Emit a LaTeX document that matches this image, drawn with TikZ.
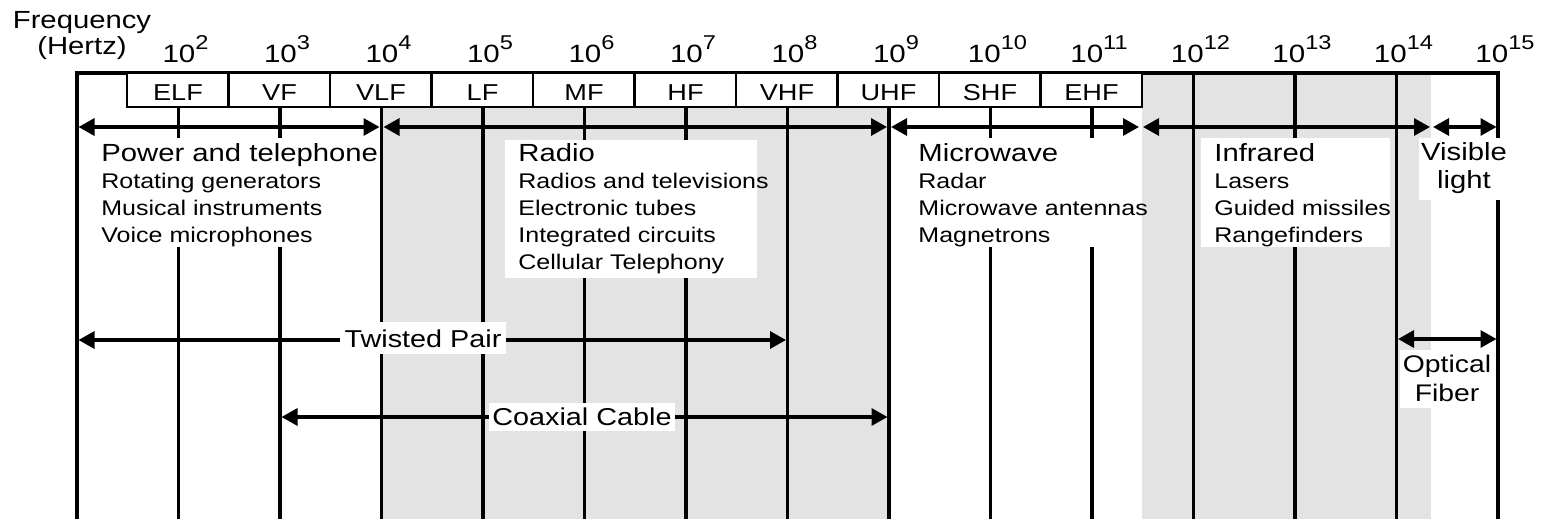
\documentclass[tikz,border=0pt]{standalone}
\usepackage{fontspec}
\setmainfont[FakeStretch=1.18]{Liberation Sans}
\usetikzlibrary{arrows.meta}
\definecolor{bggray}{HTML}{E3E3E3}
\begin{document}
\begin{tikzpicture}[x=0.5pt,y=-0.5pt,
  vline/.style={line width=1.6pt},
  bandline/.style={line width=1.15pt},
  dbl/.style={line width=1.6pt,{Triangle[length=8pt,width=8.5pt]}-{Triangle[length=8pt,width=8.5pt]}},
  head/.style={font=\fontsize{12.4}{14}\selectfont, inner sep=0pt},
  item/.style={font=\fontsize{10.6}{12}\selectfont, inner sep=0pt, anchor=base west},
  band/.style={font=\fontsize{11.5}{12}\selectfont, inner sep=0pt, anchor=base},
  expo/.style={font=\fontsize{12.5}{13}\selectfont, inner sep=0pt, anchor=base},
  lbl/.style={font=\fontsize{12.2}{14}\selectfont, fill=white, anchor=base},
  whitebg/.style={fill=white, draw=none}]

\useasboundingbox (0,0) rectangle (1545,519);

% gray bands
\fill[bggray] (381.5,107) rectangle (889,519);
\fill[bggray] (1142,73) rectangle (1431,519);

% decade lines
\foreach \n in {2,...,11} \draw[vline] ({77+(\n-1)*101.5},107) -- ({77+(\n-1)*101.5},519);
\foreach \n in {12,13,14} \draw[vline] ({77+(\n-1)*101.5},73) -- ({77+(\n-1)*101.5},519);

% frame
\draw[vline] (77,519) -- (77,73) -- (1498,73) -- (1498,519);

% band box
\draw[bandline, fill=white] (127,73) rectangle (1142,107);
\foreach \k in {1,...,9} \draw[bandline] ({127+\k*101.5},73) -- ({127+\k*101.5},107);
\foreach \nm [count=\k from 0] in {ELF,VF,VLF,LF,MF,HF,VHF,UHF,SHF,EHF}
  \node[band] (b\k) at ({178+\k*101.5},100) {\nm};

% exponent labels
\foreach \e in {2,...,15}
  \node[expo] (e\e) at ({77+(\e-1)*101.5+7},63) {10\raisebox{6.5pt}{\fontsize{10}{10}\selectfont \e}};

% axis title
\node[head, anchor=base] (fq) at (82,29) {Frequency};
\node[head, anchor=base] (hz) at (82,55) {(Hertz)};

% white backgrounds of text blocks
\fill[whitebg] (95,138) rectangle (376,247);
\fill[whitebg] (505,140) rectangle (757,278);
\fill[whitebg] (905,138) rectangle (1140,247);
\fill[whitebg] (1201,138) rectangle (1390,247);
\fill[whitebg] (1419,138) rectangle (1512,200);

% text blocks
\node[head, anchor=base west] (pw) at (101,161) {Power and telephone};
\node[item] (pw1t) at (101,188) {Rotating generators};
\node[item] (pw2t) at (101,215) {Musical instruments};
\node[item] (pw3t) at (101,242) {Voice microphones};

\node[head, anchor=base west] (ra) at (518,161) {Radio};
\node[item] (ra1t) at (518,188) {Radios and televisions};
\node[item] (ra2t) at (518,215) {Electronic tubes};
\node[item] (ra3t) at (518,242) {Integrated circuits};
\node[item] (ra4t) at (518,269) {Cellular Telephony};

\node[head, anchor=base west] (mw) at (918,161) {Microwave};
\node[item] (mw1t) at (918,188) {Radar};
\node[item] (mw2t) at (918,215) {Microwave antennas};
\node[item] (mw3t) at (918,242) {Magnetrons};

\node[head, anchor=base west] (ir) at (1214,161) {Infrared};
\node[item] (ir1t) at (1214,188) {Lasers};
\node[item] (ir2t) at (1214,215) {Guided missiles};
\node[item] (ir3t) at (1214,242) {Rangefinders};

\node[head, anchor=base] (vis1) at (1464,160) {Visible};
\node[head, anchor=base] (vis2) at (1464,188) {light};

% arrow end points
\coordinate (pwa) at (78.5,127);  \coordinate (pwb) at (379.5,127);
\coordinate (raa) at (383.5,127); \coordinate (rab) at (887,127);
\coordinate (mwa) at (891,127);   \coordinate (mwb) at (1139,127);
\coordinate (ira) at (1143,127);  \coordinate (irb) at (1430,127);
\coordinate (vla) at (1433,127);  \coordinate (vlb) at (1496.5,127);
\coordinate (tpa) at (78.5,340);  \coordinate (tpb) at (786,340);
\coordinate (cxa) at (281.5,417); \coordinate (cxb) at (887.5,417);
\coordinate (ofa) at (1398,339);  \coordinate (ofb) at (1496.5,339);

\draw[dbl] (pwa) -- (pwb);
\draw[dbl] (raa) -- (rab);
\draw[dbl] (mwa) -- (mwb);
\draw[dbl] (ira) -- (irb);
\draw[dbl] (vla) -- (vlb);
\draw[dbl] (tpa) -- (tpb);
\draw[dbl] (cxa) -- (cxb);
\draw[dbl] (ofa) -- (ofb);

% medium labels
\node[lbl, inner xsep=2.5pt, inner ysep=3.5pt] (tp) at (423,347) {Twisted Pair};
\node[lbl, inner xsep=1.5pt, inner ysep=2.5pt] (cx) at (582,425.5) {Coaxial Cable};
\fill[whitebg] (1400,350) rectangle (1494,408);
\node[head, anchor=base, font=\fontsize{12}{14}\selectfont] (of1) at (1447,372) {Optical};
\node[head, anchor=base, font=\fontsize{12}{14}\selectfont] (of2) at (1447,401) {Fiber};
\end{tikzpicture}
\end{document}
